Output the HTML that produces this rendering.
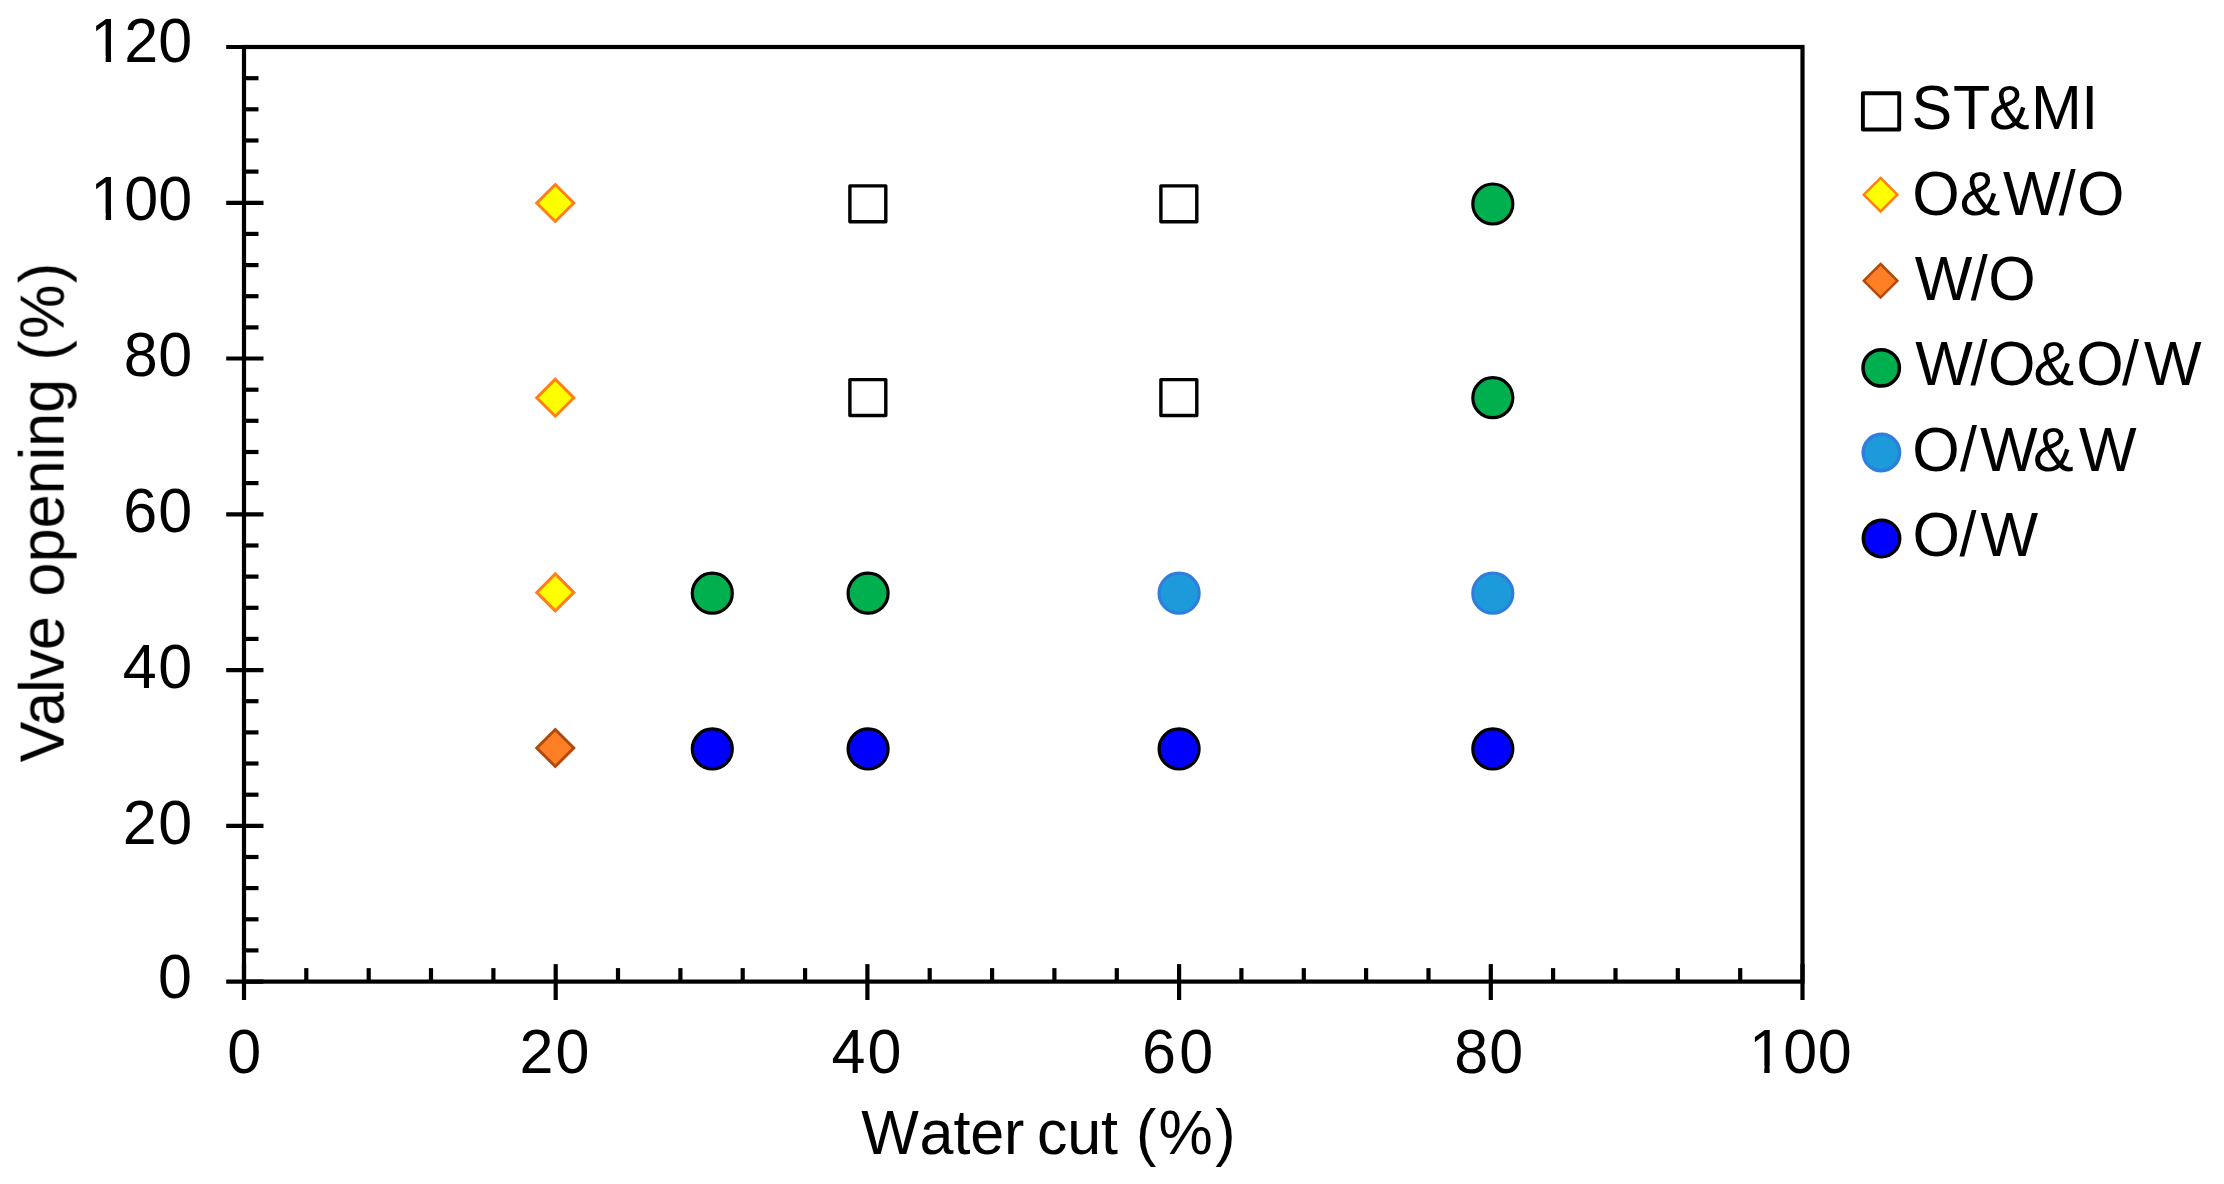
<!DOCTYPE html>
<html lang="en"><head><meta charset="utf-8"><title>Flow pattern map</title>
<style>html,body{margin:0;padding:0;background:#fff}body{width:2224px;height:1184px;overflow:hidden}svg{display:block}text{font-family:"Liberation Sans",Arial,sans-serif;fill:#000;white-space:pre}</style></head><body>
<svg width="2224" height="1184" viewBox="0 0 2224 1184">
<defs><filter id="soft" x="0" y="0" width="2224" height="1184" filterUnits="userSpaceOnUse"><feGaussianBlur stdDeviation="0.65"/></filter></defs>
<rect x="0" y="0" width="2224" height="1184" fill="#fff"/>
<g filter="url(#soft)">
<g stroke="#000" stroke-width="4.2" fill="none" stroke-linecap="butt">
<rect x="244.0" y="47.0" width="1558.5" height="934.6"/>
<line x1="226.2" y1="981.6" x2="263.5" y2="981.6"/>
<line x1="226.2" y1="825.8" x2="263.5" y2="825.8"/>
<line x1="226.2" y1="670.1" x2="263.5" y2="670.1"/>
<line x1="226.2" y1="514.3" x2="263.5" y2="514.3"/>
<line x1="226.2" y1="358.5" x2="263.5" y2="358.5"/>
<line x1="226.2" y1="202.8" x2="263.5" y2="202.8"/>
<line x1="226.2" y1="47.0" x2="263.5" y2="47.0"/>
<line x1="244.0" y1="950.4" x2="258.5" y2="950.4"/>
<line x1="244.0" y1="919.3" x2="258.5" y2="919.3"/>
<line x1="244.0" y1="888.1" x2="258.5" y2="888.1"/>
<line x1="244.0" y1="857.0" x2="258.5" y2="857.0"/>
<line x1="244.0" y1="794.7" x2="258.5" y2="794.7"/>
<line x1="244.0" y1="763.5" x2="258.5" y2="763.5"/>
<line x1="244.0" y1="732.4" x2="258.5" y2="732.4"/>
<line x1="244.0" y1="701.2" x2="258.5" y2="701.2"/>
<line x1="244.0" y1="638.9" x2="258.5" y2="638.9"/>
<line x1="244.0" y1="607.8" x2="258.5" y2="607.8"/>
<line x1="244.0" y1="576.6" x2="258.5" y2="576.6"/>
<line x1="244.0" y1="545.5" x2="258.5" y2="545.5"/>
<line x1="244.0" y1="483.1" x2="258.5" y2="483.1"/>
<line x1="244.0" y1="452.0" x2="258.5" y2="452.0"/>
<line x1="244.0" y1="420.8" x2="258.5" y2="420.8"/>
<line x1="244.0" y1="389.7" x2="258.5" y2="389.7"/>
<line x1="244.0" y1="327.4" x2="258.5" y2="327.4"/>
<line x1="244.0" y1="296.2" x2="258.5" y2="296.2"/>
<line x1="244.0" y1="265.1" x2="258.5" y2="265.1"/>
<line x1="244.0" y1="233.9" x2="258.5" y2="233.9"/>
<line x1="244.0" y1="171.6" x2="258.5" y2="171.6"/>
<line x1="244.0" y1="140.5" x2="258.5" y2="140.5"/>
<line x1="244.0" y1="109.3" x2="258.5" y2="109.3"/>
<line x1="244.0" y1="78.2" x2="258.5" y2="78.2"/>
<line x1="244.0" y1="964.1" x2="244.0" y2="1000.0"/>
<line x1="555.7" y1="964.1" x2="555.7" y2="1000.0"/>
<line x1="867.4" y1="964.1" x2="867.4" y2="1000.0"/>
<line x1="1179.1" y1="964.1" x2="1179.1" y2="1000.0"/>
<line x1="1490.8" y1="964.1" x2="1490.8" y2="1000.0"/>
<line x1="1802.5" y1="964.1" x2="1802.5" y2="1000.0"/>
<line x1="306.3" y1="968.1" x2="306.3" y2="981.6"/>
<line x1="368.7" y1="968.1" x2="368.7" y2="981.6"/>
<line x1="431.0" y1="968.1" x2="431.0" y2="981.6"/>
<line x1="493.4" y1="968.1" x2="493.4" y2="981.6"/>
<line x1="618.0" y1="968.1" x2="618.0" y2="981.6"/>
<line x1="680.4" y1="968.1" x2="680.4" y2="981.6"/>
<line x1="742.7" y1="968.1" x2="742.7" y2="981.6"/>
<line x1="805.1" y1="968.1" x2="805.1" y2="981.6"/>
<line x1="929.7" y1="968.1" x2="929.7" y2="981.6"/>
<line x1="992.1" y1="968.1" x2="992.1" y2="981.6"/>
<line x1="1054.4" y1="968.1" x2="1054.4" y2="981.6"/>
<line x1="1116.8" y1="968.1" x2="1116.8" y2="981.6"/>
<line x1="1241.4" y1="968.1" x2="1241.4" y2="981.6"/>
<line x1="1303.8" y1="968.1" x2="1303.8" y2="981.6"/>
<line x1="1366.1" y1="968.1" x2="1366.1" y2="981.6"/>
<line x1="1428.5" y1="968.1" x2="1428.5" y2="981.6"/>
<line x1="1553.1" y1="968.1" x2="1553.1" y2="981.6"/>
<line x1="1615.5" y1="968.1" x2="1615.5" y2="981.6"/>
<line x1="1677.8" y1="968.1" x2="1677.8" y2="981.6"/>
<line x1="1740.2" y1="968.1" x2="1740.2" y2="981.6"/>
</g>
<g font-size="61">
<text id="y120" transform="translate(90.35,62.2) scale(1,1.022)">120</text>
<text id="y100" transform="translate(90.35,220.3) scale(1,1.022)" letter-spacing="0.075">100</text>
<text id="y80" transform="translate(123.65,376.0) scale(1,1.022)" letter-spacing="0.700">80</text>
<text id="y60" transform="translate(123.15,532.0) scale(1,1.022)" letter-spacing="1.200">60</text>
<text id="y40" transform="translate(122.80,688.0) scale(1,1.022)" letter-spacing="1.600">40</text>
<text id="y20" transform="translate(122.70,843.9) scale(1,1.022)" letter-spacing="1.750">20</text>
<text id="y0" transform="translate(158.00,998.4) scale(1,1.022)">0</text>
<text id="x0" transform="translate(227.30,1072.5) scale(1,1.022)">0</text>
<text id="x20" transform="translate(519.60,1072.5) scale(1,1.022)" letter-spacing="1.900">20</text>
<text id="x40" transform="translate(831.50,1072.5) scale(1,1.022)" letter-spacing="2.200">40</text>
<text id="x60" transform="translate(1142.00,1072.5) scale(1,1.022)" letter-spacing="3.350">60</text>
<text id="x80" transform="translate(1454.15,1072.5) scale(1,1.022)" letter-spacing="1.100">80</text>
<text id="x100" transform="translate(1748.95,1072.5) scale(1,1.022)" letter-spacing="0.500">100</text>
<rect x="92.85" y="55.60" width="12.84" height="9" fill="#fff"/>
<rect x="111.08" y="55.60" width="11.57" height="9" fill="#fff"/>
<rect x="92.85" y="213.70" width="12.84" height="9" fill="#fff"/>
<rect x="111.08" y="213.70" width="11.57" height="9" fill="#fff"/>
<rect x="1751.45" y="1065.90" width="12.84" height="9" fill="#fff"/>
<rect x="1769.68" y="1065.90" width="11.57" height="9" fill="#fff"/>
<text id="xt" transform="translate(0,1153.6) scale(1,1.03)" x="861.3 919.6 953.4 970.3 1004.1 1014.1 1036.9 1067.2 1100.9 1110.9 1135.9 1158.6 1215.3" y="0">Water cut (%)</text>
<text id="yt" transform="translate(63.3,761.8) rotate(-90) scale(1,1.03)" x="-0.5 35.9 69.1 81.9 111.7 121.7 165.3 199.4 233.4 267.4 301.4 315.1 349.1 359.1 401.2 423.0 478.7" y="0">Valve opening (%)</text>
<text id="l0" transform="translate(0,128.7) scale(1,1.03)" x="1911.4 1952.9 1989.0 2030.9 2081.2" y="0">ST&amp;MI</text>
<text id="l1" transform="translate(0,214.7) scale(1,1.03)" x="1912.2 1959.8 2003.1 2058.8 2076.9" y="0">O&amp;W/O</text>
<text id="l2" transform="translate(0,299.5) scale(1,1.03)" x="1914.7 1970.7 1988.3" y="0">W/O</text>
<text id="l3" transform="translate(0,385.4) scale(1,1.03)" x="1915.3 1970.5 1988.1 2033.5 2076.3 2122.0 2144.0" y="0">W/O&amp;O/W</text>
<text id="l4" transform="translate(0,471.1) scale(1,1.03)" x="1912.2 1959.9 1979.9 2033.1 2079.0" y="0">O/W&amp;W</text>
<text id="l5" transform="translate(0,556.4) scale(1,1.03)" x="1912.5 1959.6 1980.5" y="0">O/W</text>
</g>
<path d="M555.3 184.5L573.8 203.0L555.3 221.5L536.8 203.0Z" fill="#FFFF00" stroke="#FF7F14" stroke-width="3.0" stroke-linejoin="miter"/>
<path d="M555.3 379.2L573.8 397.7L555.3 416.2L536.8 397.7Z" fill="#FFFF00" stroke="#FF7F14" stroke-width="3.0" stroke-linejoin="miter"/>
<path d="M555.3 573.9L573.8 592.4L555.3 610.9L536.8 592.4Z" fill="#FFFF00" stroke="#FF7F14" stroke-width="3.0" stroke-linejoin="miter"/>
<path d="M555.3 729.5L573.8 748.0L555.3 766.5L536.8 748.0Z" fill="#FF7F27" stroke="#B04A08" stroke-width="3.0" stroke-linejoin="miter"/>
<rect x="849.9" y="185.9" width="35.9" height="35.9" fill="#fff" stroke="#000" stroke-width="3.4" stroke-linejoin="round"/>
<rect x="849.9" y="379.6" width="35.9" height="35.9" fill="#fff" stroke="#000" stroke-width="3.4" stroke-linejoin="round"/>
<rect x="1160.9" y="185.9" width="35.9" height="35.9" fill="#fff" stroke="#000" stroke-width="3.4" stroke-linejoin="round"/>
<rect x="1160.9" y="379.6" width="35.9" height="35.9" fill="#fff" stroke="#000" stroke-width="3.4" stroke-linejoin="round"/>
<circle cx="712.3" cy="593.2" r="20.0" fill="#00B050" stroke="#000" stroke-width="3.2"/>
<circle cx="868.1" cy="593.2" r="20.0" fill="#00B050" stroke="#000" stroke-width="3.2"/>
<circle cx="1492.8" cy="204.0" r="20.0" fill="#00B050" stroke="#000" stroke-width="3.2"/>
<circle cx="1492.8" cy="397.7" r="20.0" fill="#00B050" stroke="#000" stroke-width="3.2"/>
<circle cx="1179.1" cy="593.2" r="20.0" fill="#1F9AD9" stroke="#2F7FDB" stroke-width="3.2"/>
<circle cx="1492.8" cy="593.2" r="20.0" fill="#1F9AD9" stroke="#2F7FDB" stroke-width="3.2"/>
<circle cx="712.3" cy="748.9" r="20.0" fill="#0000FF" stroke="#000" stroke-width="3.2"/>
<circle cx="868.1" cy="748.9" r="20.0" fill="#0000FF" stroke="#000" stroke-width="3.2"/>
<circle cx="1179.1" cy="748.9" r="20.0" fill="#0000FF" stroke="#000" stroke-width="3.2"/>
<circle cx="1492.8" cy="748.9" r="20.0" fill="#0000FF" stroke="#000" stroke-width="3.2"/>
<rect x="1862.9" y="93.2" width="36.3" height="36.3" fill="#fff" stroke="#000" stroke-width="3.9" stroke-linejoin="round"/>
<path d="M1880.6 177.9L1897.4 194.7L1880.6 211.5L1863.8 194.7Z" fill="#FFFF00" stroke="#FF7F14" stroke-width="2.5" stroke-linejoin="miter"/>
<path d="M1880.6 264.0L1897.4 280.8L1880.6 297.6L1863.8 280.8Z" fill="#FF7F27" stroke="#B04A08" stroke-width="2.5" stroke-linejoin="miter"/>
<circle cx="1881.2" cy="367.9" r="18.2" fill="#00B050" stroke="#000" stroke-width="3.5"/>
<circle cx="1881.4" cy="452.5" r="18.2" fill="#1F9AD9" stroke="#2F7FDB" stroke-width="3.5"/>
<circle cx="1881.5" cy="538.5" r="18.2" fill="#0000FF" stroke="#000" stroke-width="3.5"/>
</g>
</svg></body></html>
